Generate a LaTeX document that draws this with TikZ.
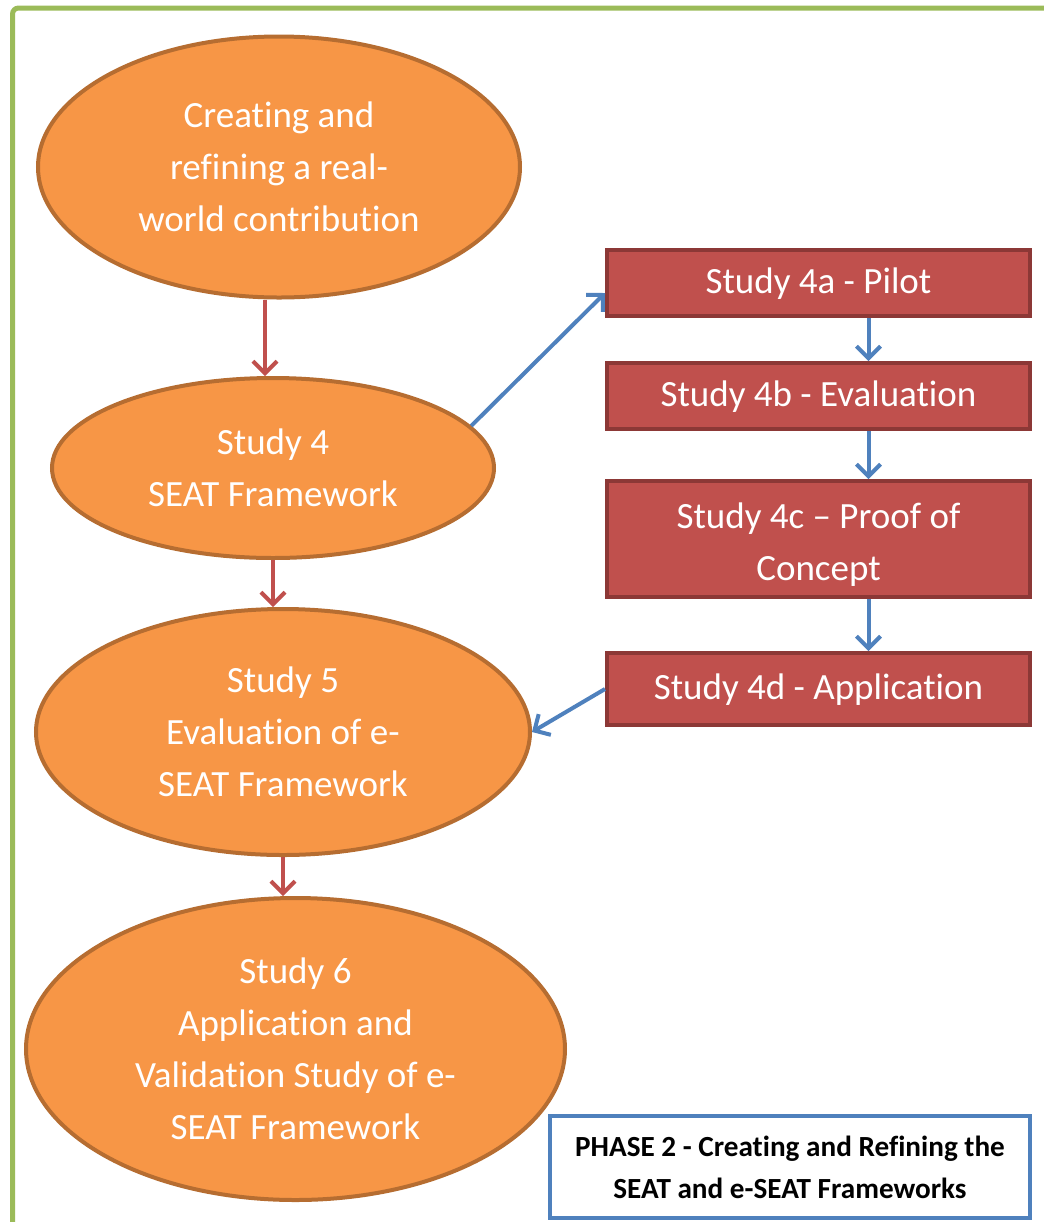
\documentclass[tikz,border=0pt]{standalone}
\usepackage{fontspec}
\setmainfont{Carlito}[Ligatures=TeX, RawFeature={-liga;-clig;-dlig;-rlig;-calt}]
\usepackage{xcolor}
\usetikzlibrary{shapes.geometric, arrows.meta}

\definecolor{studyorange}{HTML}{F79646}
\definecolor{studyedge}{HTML}{B66D31}
\definecolor{subred}{HTML}{C0504D}
\definecolor{subedge}{HTML}{8C3836}
\definecolor{linkblue}{HTML}{4F81BD}
\definecolor{framegreen}{HTML}{9BBB59}

\tikzset{
    study/.style={ellipse, draw=studyedge, fill=studyorange, line width=2pt, inner sep=0pt,
        text=white, align=center, font=\fontsize{18.5}{26}\selectfont},
    substudy/.style={rectangle, draw=subedge, fill=subred, line width=2pt, inner sep=0pt,
        minimum width=211.5pt, text=white, align=center, font=\fontsize{18.5}{26}\selectfont},
    phasebox/.style={rectangle, draw=linkblue, fill=white, line width=2pt, inner sep=0pt,
        minimum width=240pt, minimum height=51pt, align=center,
        font=\bfseries\fontsize{14.6}{21}\selectfont},
    redarrow/.style={-{Straight Barb[length=6pt, width=12pt]}, draw=subred, line width=2pt},
    bluearrow/.style={-{Straight Barb[length=6pt, width=12pt]}, draw=linkblue, line width=2pt}
}

\begin{document}
\begin{tikzpicture}[x=0.5pt, y=-0.5pt]
    \useasboundingbox (0,0) rectangle (1044,1222);
    \draw[framegreen, line width=2.5pt, rounded corners=3pt] (12.5,1222) -- (12.5,8) -- (1044,8);

    \node[study, minimum width=241pt, minimum height=130.5pt] (e1) at (279,167) {Creating and\\refining a real-\\world contribution};
    \node[study, minimum width=221pt, minimum height=90pt] (e2) at (273,468) {Study 4\\SEAT Framework};
    \node[study, minimum width=247pt, minimum height=123pt] (e3) at (283,732) {Study 5\\Evaluation of e-\\SEAT Framework};
    \node[study, minimum width=269.5pt, minimum height=151pt] (e4) at (295.5,1049) {Study 6\\Application and\\Validation Study of e-\\SEAT Framework};

    \node[substudy, minimum height=33pt] (s4a) at (818.5,283) {\strut Study 4a - Pilot};
    \node[substudy, minimum height=33pt] (s4b) at (818.5,396) {\strut Study 4b - Evaluation};
    \node[substudy, minimum height=58pt] (s4c) at (818.5,539) {\strut Study 4c -- Proof of\\Concept};
    \node[substudy, minimum height=36pt] (s4d) at (818.5,689) {\strut Study 4d - Application};

    \node[phasebox] (phase) at (790,1167) {PHASE 2 - Creating and Refining the\\SEAT and e-SEAT Frameworks};

    \coordinate (r1) at ([xshift=-7pt]e1.south);
    \draw[redarrow] (r1) -- (r1 |- e2.north);
    \draw[redarrow] (e2.south) -- (e2.south |- e3.north);
    \draw[redarrow] (e3.south) -- (e3.south |- e4.north);

    \draw[bluearrow] (e2.12) -- ([yshift=-5pt]s4a.west);
    \foreach \a/\b in {s4a/s4b, s4b/s4c, s4c/s4d}
        \draw[bluearrow] ([xshift=25pt]\a.south) -- ([xshift=25pt]\b.north);
    \draw[bluearrow] (s4d.west) -- (e3.east);
\end{tikzpicture}
\end{document}
